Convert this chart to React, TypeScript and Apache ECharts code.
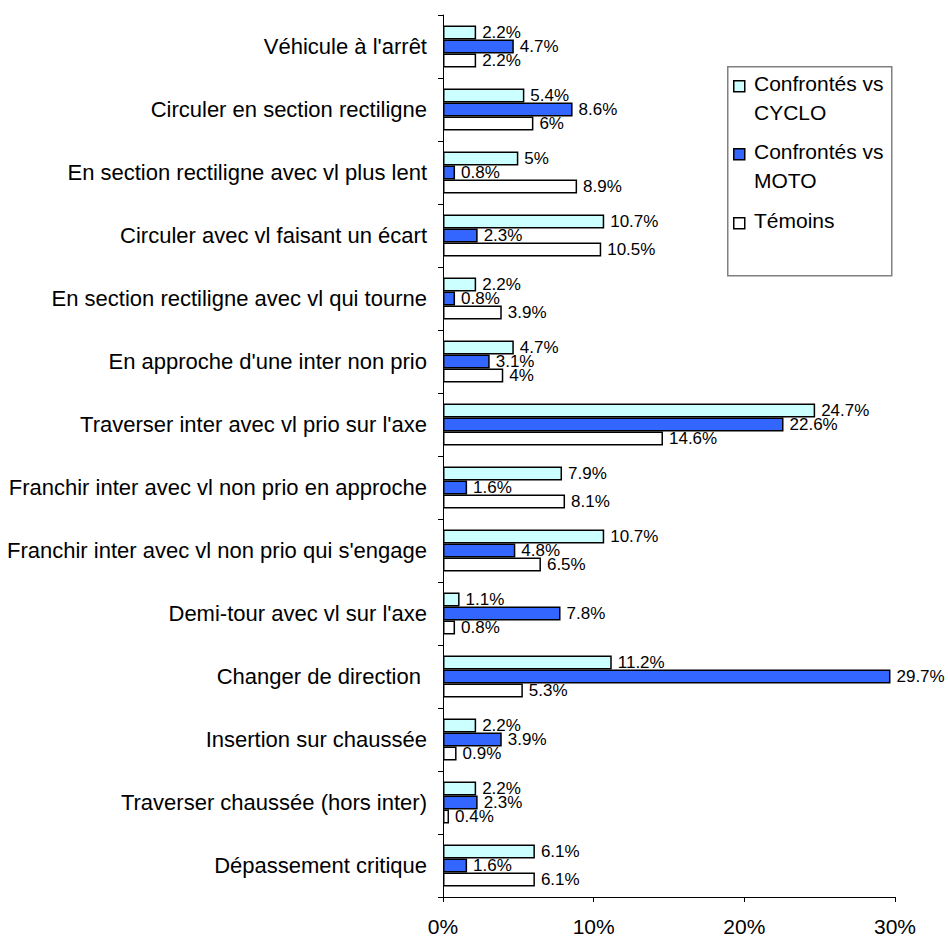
import React, { useEffect, useRef } from "react";
import * as echarts from "echarts";

const categories = [
  "Véhicule à l'arrêt",
  "Circuler en section rectiligne",
  "En section rectiligne avec vl plus lent",
  "Circuler avec vl faisant un écart",
  "En section rectiligne avec vl qui tourne",
  "En approche d'une inter non prio",
  "Traverser inter avec vl prio sur l'axe",
  "Franchir inter avec vl non prio en approche",
  "Franchir inter avec vl non prio qui s'engage",
  "Demi-tour avec vl sur l'axe",
  "Changer de direction ",
  "Insertion sur chaussée",
  "Traverser chaussée (hors inter)",
  "Dépassement critique",
];

const cycloValues = [2.2, 5.4, 5, 10.7, 2.2, 4.7, 24.7, 7.9, 10.7, 1.1, 11.2, 2.2, 2.2, 6.1];
const motoValues = [4.7, 8.6, 0.8, 2.3, 0.8, 3.1, 22.6, 1.6, 4.8, 7.8, 29.7, 3.9, 2.3, 1.6];
const temoinsValues = [2.2, 6, 8.9, 10.5, 3.9, 4, 14.6, 8.1, 6.5, 0.8, 5.3, 0.9, 0.4, 6.1];

const xTicks = [0, 10, 20, 30];

const seriesNames = ["Confrontés vs CYCLO", "Confrontés vs MOTO", "Témoins"];
const seriesColors = ["#CCFFFF", "#3366FF", "#FFFFFF"];
const legendLines = [["Confrontés vs", "CYCLO"], ["Confrontés vs", "MOTO"], ["Témoins"]];

const FONT = "'Liberation Sans', Arial, sans-serif";

export default function App() {
  const ref = useRef<HTMLDivElement>(null);
  useEffect(() => {
    if (!ref.current) return;
    const chart = echarts.init(ref.current, undefined, { renderer: "svg" });
    const allValues = [cycloValues, motoValues, temoinsValues];

    const legendGraphics: any[] = [
      {
        type: "rect",
        left: 727,
        top: 66,
        shape: { width: 164, height: 209 },
        style: { fill: "#fff", stroke: "#808080", lineWidth: 1.5 },
        z: 10,
      },
    ];
    const iconTops = [80, 148, 217];
    legendLines.forEach((lines, i) => {
      legendGraphics.push({
        type: "rect",
        left: 733,
        top: iconTops[i],
        shape: { width: 11, height: 11 },
        style: { fill: seriesColors[i], stroke: "#000", lineWidth: 1.5 },
        z: 11,
      });
      lines.forEach((t, j) => {
        legendGraphics.push({
          type: "text",
          left: 754,
          top: iconTops[i] - 7 + j * 29,
          style: { text: t, fill: "#000", font: `21px ${FONT}` },
          z: 11,
        });
      });
    });

    chart.setOption({
      animation: false,
      backgroundColor: "#fff",
      textStyle: { fontFamily: FONT },
      grid: { left: 443, right: 53, top: 15, bottom: 41, containLabel: false },
      xAxis: {
        type: "value",
        min: 0,
        max: 30,
        interval: 10,
        axisLine: { show: true, lineStyle: { color: "#000", width: 1 } },
        axisTick: { show: true, length: 5, lineStyle: { color: "#000" } },
        splitLine: { show: false },
        axisLabel: {
          formatter: (v: number) => (xTicks.includes(v) ? `${v}%` : ""),
          fontSize: 21,
          color: "#000",
          margin: 19,
          fontFamily: FONT,
        },
      },
      yAxis: {
        type: "category",
        data: categories,
        inverse: true,
        axisLine: { show: true, lineStyle: { color: "#000", width: 1 } },
        axisTick: { show: true, length: 5, lineStyle: { color: "#000" } },
        axisLabel: { fontSize: 22, color: "#000", margin: 16, fontFamily: FONT },
      },
      series: seriesNames.map((name, i) => ({
        name,
        type: "bar",
        data: allValues[i],
        barWidth: 14,
        barGap: "0%",
        itemStyle: { color: seriesColors[i], borderColor: "#000", borderWidth: 1.5 },
        label: {
          show: true,
          position: "right",
          distance: 6,
          formatter: (p: any) => `${p.value}%`,
          fontSize: 17,
          color: "#000",
          fontFamily: FONT,
        },
      })),
      graphic: legendGraphics,
    });
    return () => chart.dispose();
  }, []);
  return <div ref={ref} style={{ width: 948, height: 938, position: "absolute", left: 0, top: 0 }} />;
}
